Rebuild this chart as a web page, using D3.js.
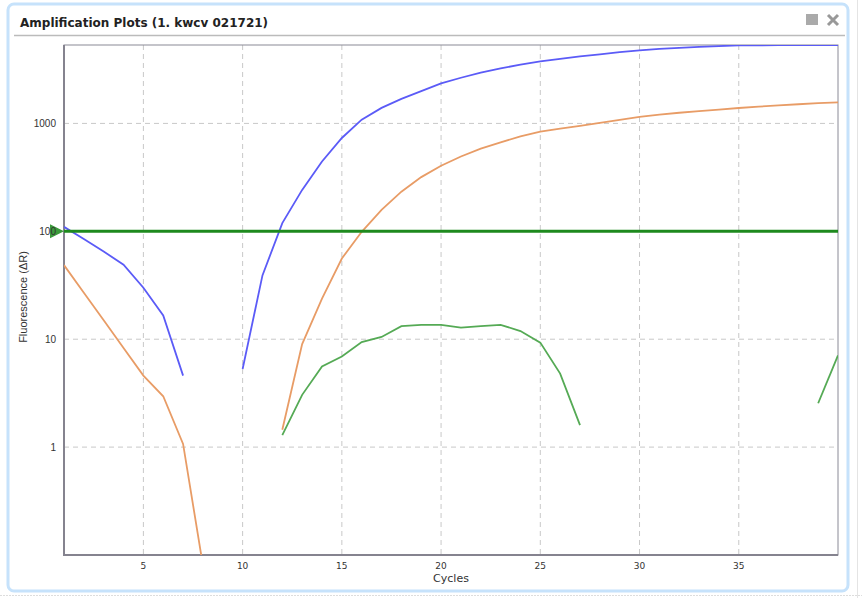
<!DOCTYPE html>
<html>
<head>
<meta charset="UTF-8">
<style>
body { margin: 0; background: #fff; font-family: "Liberation Sans", Arial, sans-serif; }
svg { display: block; }
</style>
</head>
<body>
<svg id="chart" width="862" height="598"></svg>
<script src="https://d3js.org/d3.v7.min.js"></script>
<script>

// cycles for each curve piece (gaps where the value dropped out)
const blueA = [110, 85, 65, 49, 30, 16.6, 4.6];               // cycles 1-7
const blueB = [5.3, 39, 119, 242, 444, 733, 1084, 1393, 1690, 1990, 2345, 2650, 2950, 3235, 3500, 3755,
  3970, 4185, 4370, 4570, 4750, 4910, 5015, 5130, 5210, 5290, 5300, 5310, 5320, 5325, 5330]; // cycles 10-40
const orangeA = [48.6, 27, 15, 8.3, 4.6, 2.96, 1.07, 0.08];   // cycles 1-8
const orangeB = [1.45, 9.0, 23.8, 56, 99, 158, 233, 318, 405, 494, 583, 667, 759, 839,
  893, 948, 1010, 1080, 1150, 1205, 1255, 1300, 1345, 1390, 1430, 1470, 1505, 1540, 1570]; // cycles 12-40
const greenA = [1.29, 3.05, 5.6, 6.9, 9.4, 10.5, 13.2, 13.6, 13.6, 12.8, 13.2, 13.6, 11.9, 9.3, 4.8, 1.6]; // cycles 12-27
const greenB = [2.55, 7.07];                                  // cycles 39-40
const threshold = 100;
const xTicks = [5, 10, 15, 20, 25, 30, 35];
const yTicks = [1, 10, 100, 1000];

const curves = [
  { start: 1, vals: blueA, color: "#5b5bf7" },
  { start: 10, vals: blueB, color: "#5b5bf7" },
  { start: 1, vals: orangeA, color: "#e89c66" },
  { start: 12, vals: orangeB, color: "#e89c66" },
  { start: 12, vals: greenA, color: "#55aa55" },
  { start: 39, vals: greenB, color: "#55aa55" }
];

const svg = d3.select("#chart");

// window frame
svg.append("rect")
  .attr("x", 8).attr("y", 4).attr("width", 840).attr("height", 587)
  .attr("rx", 6)
  .attr("fill", "#fff")
  .attr("stroke", "#c6e2fb")
  .attr("stroke-width", 3);
svg.append("line")
  .attr("x1", 0).attr("x2", 862).attr("y1", 595.5).attr("y2", 595.5)
  .attr("stroke", "#ddd").attr("stroke-dasharray", "2,1");
svg.append("line")
  .attr("x1", 857.5).attr("x2", 857.5).attr("y1", 0).attr("y2", 598)
  .attr("stroke", "#e4e4e4");

svg.append("text")
  .attr("x", 20).attr("y", 27)
  .attr("font-family", "DejaVu Sans")
  .attr("font-weight", "bold")
  .attr("font-size", 12)
  .attr("fill", "#222")
  .text("Amplification Plots (1. kwcv 021721)");

svg.append("line")
  .attr("x1", 14).attr("x2", 845).attr("y1", 35.5).attr("y2", 35.5)
  .attr("stroke", "#bbb").attr("stroke-width", 1.5);

// header icons
svg.append("rect")
  .attr("x", 806).attr("y", 14).attr("width", 12).attr("height", 11)
  .attr("fill", "#aaa");
svg.append("path")
  .attr("d", "M828,15 L838,25 M838,15 L828,25")
  .attr("stroke", "#999").attr("stroke-width", 3);

const pLeft = 64, pRight = 838, pTop = 45, pBottom = 555;

const x = d3.scaleLinear().domain([1, 40]).range([pLeft, pRight]);
const y = d3.scaleLog().domain([0.1, d3.max(blueB)]).range([pBottom, pTop]);

const plot = svg.append("g");

svg.append("defs").append("clipPath").attr("id", "clip")
  .append("rect").attr("x", pLeft).attr("y", pTop)
  .attr("width", pRight - pLeft).attr("height", pBottom - pTop);

// grid
plot.selectAll(".vg").data(xTicks).enter().append("line")
  .attr("x1", d => x(d)).attr("x2", d => x(d))
  .attr("y1", pTop).attr("y2", pBottom)
  .attr("stroke", "#c8c8c8").attr("stroke-dasharray", "5,4");
plot.selectAll(".hg").data(yTicks).enter().append("line")
  .attr("x1", pLeft).attr("x2", pRight)
  .attr("y1", d => y(d)).attr("y2", d => y(d))
  .attr("stroke", "#c8c8c8").attr("stroke-dasharray", "5,4");

// frame
plot.append("rect")
  .attr("x", pLeft).attr("y", pTop).attr("width", pRight - pLeft).attr("height", pBottom - pTop)
  .attr("fill", "none").attr("stroke", "#8a8a96").attr("stroke-width", 1);
plot.append("path")
  .attr("d", `M${pLeft},${pTop} V${pBottom} H${pRight}`)
  .attr("fill", "none").attr("stroke", "#85838f").attr("stroke-width", 2);

// curves
const line = d3.line().x(d => x(d[0])).y(d => y(d[1]));
const cg = plot.append("g").attr("clip-path", "url(#clip)");
curves.forEach(c => {
  cg.append("path")
    .datum(c.vals.map((v, i) => [c.start + i, v]))
    .attr("d", line)
    .attr("fill", "none")
    .attr("stroke", c.color)
    .attr("stroke-width", 1.8);
});

// threshold
plot.append("line")
  .attr("x1", pLeft).attr("x2", pRight)
  .attr("y1", y(threshold)).attr("y2", y(threshold))
  .attr("stroke", "#1e8a1e").attr("stroke-width", 3);
plot.append("path")
  .attr("d", `M${pLeft - 14},${y(threshold) - 7} L${pLeft},${y(threshold)} L${pLeft - 14},${y(threshold) + 7} Z`)
  .attr("fill", "#3a9a3a");

// tick labels
svg.selectAll(".yl").data(yTicks).enter().append("text")
  .attr("x", 56).attr("y", d => y(d) + 4)
  .attr("text-anchor", "end")
  .attr("font-size", 10)
  .attr("fill", "#333")
  .text(d => d);
svg.selectAll(".xl").data(xTicks).enter().append("text")
  .attr("x", d => x(d)).attr("y", 569)
  .attr("text-anchor", "middle")
  .attr("font-family", "DejaVu Sans")
  .attr("font-size", 9)
  .attr("fill", "#333")
  .text(d => d);

svg.append("text")
  .attr("x", (pLeft + pRight) / 2).attr("y", 582)
  .attr("text-anchor", "middle")
  .attr("font-family", "DejaVu Sans")
  .attr("font-size", 11)
  .attr("fill", "#333")
  .text("Cycles");

svg.append("text")
  .attr("transform", "translate(27,297) rotate(-90)")
  .attr("text-anchor", "middle")
  .attr("font-size", 11)
  .attr("fill", "#333")
  .text("Fluorescence (ΔR)");

</script>
</body>
</html>
